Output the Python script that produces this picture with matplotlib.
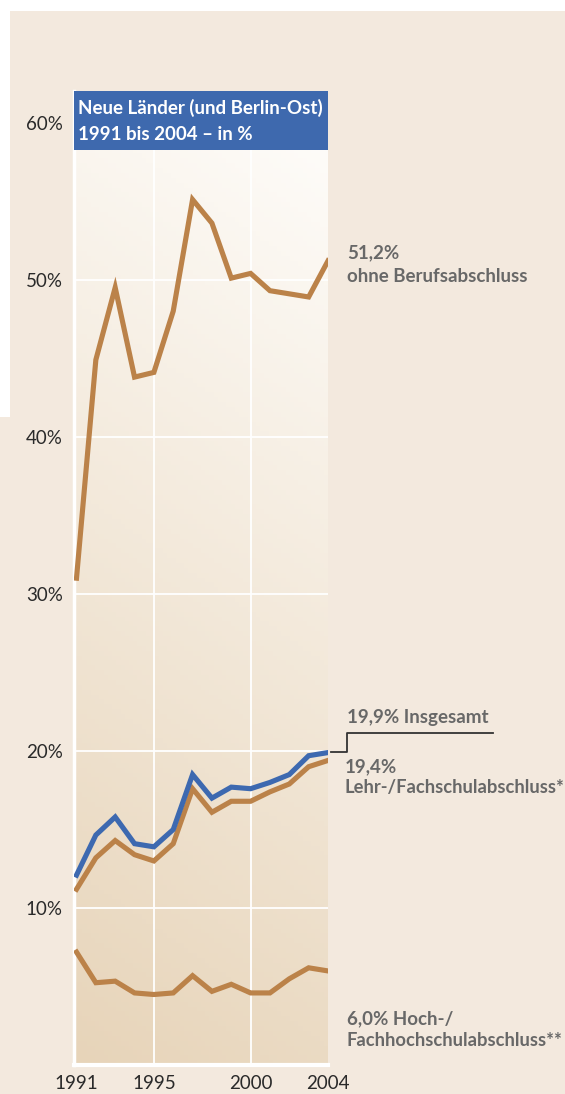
import numpy as np
import matplotlib
matplotlib.use("Agg")
import matplotlib.pyplot as plt
from matplotlib.patches import Rectangle
from matplotlib.colors import to_rgb

plt.rcParams['font.family'] = ['Lato', 'DejaVu Sans']

years = list(range(1991, 2005))
ohne = [31.0, 44.9, 49.5, 43.8, 44.1, 48.0, 55.1, 53.6, 50.1, 50.4, 49.3, 49.1, 48.9, 51.2]
insgesamt = [12.1, 14.65, 15.8, 14.1, 13.9, 15.0, 18.5, 17.0, 17.7, 17.6, 18.0, 18.5, 19.7, 19.9]
lehr = [11.2, 13.2, 14.3, 13.4, 13.0, 14.1, 17.6, 16.1, 16.8, 16.8, 17.4, 17.9, 19.0, 19.4]
hoch = [7.2, 5.25, 5.35, 4.6, 4.5, 4.6, 5.7, 4.7, 5.15, 4.6, 4.6, 5.5, 6.2, 6.0]

yticks = [10, 20, 30, 40, 50, 60]
ytick_labels = ["10%", "20%", "30%", "40%", "50%", "60%"]
xticks = [1991, 1995, 2000, 2004]
title_lines = ["Neue Länder (und Berlin-Ost)", "1991 bis 2004 – in %"]

W, H = 565, 1094
BROWN = "#bb8249"
BLUE = "#3d69b0"
BEIGE = "#f3e9de"
GRAY = "#686868"

fig = plt.figure(figsize=(W / 100, H / 100), dpi=100)
fig.patch.set_facecolor("white")

def fx(x):
    return x / W

def fy(y):
    return 1 - y / H

# background beige regions
fig.patches.append(Rectangle((fx(10), 0), 1 - fx(10), fy(11), transform=fig.transFigure,
                             facecolor=BEIGE, edgecolor="none", zorder=-10))
fig.patches.append(Rectangle((0, 0), fx(10) + 0.001, fy(417), transform=fig.transFigure,
                             facecolor=BEIGE, edgecolor="none", zorder=-10))

# axes geometry
ax_left, ax_right = 74, 328
ax_top, ax_bottom = 91, 1065.2
px_per = 15.71
ytop = (ax_bottom - ax_top) / px_per
step = (328 - 76.5) / 13
xmin = 1991 - 2.5 / step

ax = fig.add_axes([fx(ax_left), fy(ax_bottom), fx(ax_right - ax_left), (ax_bottom - ax_top) / H])
ax.set_zorder(1)
ax.patch.set_alpha(0)
for s in ax.spines.values():
    s.set_visible(False)

# gradient background (row 0 = bottom)
ny, nx = 200, 60
yy, xx = np.mgrid[0:1:ny * 1j, 0:1:nx * 1j]
s = np.clip((1 - yy) * 0.85 + (1 - xx) * 0.15, 0, 1)
top_c = np.array(to_rgb("#fffefc"))
bot_c = np.array(to_rgb("#e7d4b9"))
img = top_c[None, None, :] * (1 - s[..., None]) + bot_c[None, None, :] * s[..., None]
ax.imshow(img, extent=[xmin, 2004, 0, ytop], aspect="auto", zorder=0, origin="lower")
ax.set_xlim(xmin, 2004)
ax.set_ylim(0, ytop)

# grid
for v in yticks[:-1]:
    ax.axhline(v, color="white", lw=1.3, zorder=1)
for v in [1995, 2000]:
    ax.axvline(v, color="white", lw=1.3, zorder=1)
ax.axvline(xmin, color="white", lw=2.5, zorder=1, clip_on=False)
ax.axhline(0, color="white", lw=3, zorder=1, clip_on=False)

# lines
ax.plot(years, ohne, color=BROWN, lw=3.7, zorder=3, solid_joinstyle="miter")
ax.plot(years, lehr, color=BROWN, lw=3.7, zorder=3, solid_joinstyle="miter")
ax.plot(years, hoch, color=BROWN, lw=3.7, zorder=3, solid_joinstyle="miter")
ax.plot(years, insgesamt, color=BLUE, lw=3.7, zorder=4, solid_joinstyle="miter")

# title box
ybox = (ax_bottom - 150) / px_per
ax.add_patch(Rectangle((xmin, ybox), 2004 - xmin, ytop - ybox,
                       facecolor="#3e69ae", edgecolor="none", zorder=5, clip_on=False))
fig.text(fx(78), fy(108), title_lines[0], color="white", fontsize=13.5, fontweight="bold",
         ha="left", va="center", zorder=10)
fig.text(fx(78), fy(134), title_lines[1], color="white", fontsize=13.5, fontweight="bold",
         ha="left", va="center", zorder=10)

# ticks
ax.set_yticks(yticks)
ax.set_yticklabels(ytick_labels)
ax.set_xticks(xticks)
ax.set_xticklabels([str(x) for x in xticks])
ax.tick_params(axis="both", length=0, labelsize=13.5, colors="#2a2a2a")
ax.tick_params(axis="y", pad=8)
ax.tick_params(axis="x", pad=7)

# annotations
def lab(x, y, t, size=13.5):
    fig.text(fx(x), fy(y), t, color=GRAY, fontsize=size, fontweight="bold", ha="left", va="center")

lab(347, 253, "51,2%")
lab(347, 277, "ohne Berufsabschluss")
lab(347, 718, "19,9% Insgesamt")
lab(345, 767, "19,4%")
lab(345, 787, "Lehr-/Fachschulabschluss*", 13.2)
lab(347, 1019, "6,0% Hoch-/")
lab(347, 1040, "Fachhochschulabschluss**", 13.2)

# connector line
cx = [331, 347, 347, 493]
cy = [752, 752, 733, 733]
fig.lines.append(plt.Line2D([fx(v) for v in cx], [fy(v) for v in cy], transform=fig.transFigure,
                            color="#333333", lw=1.3))

fig.savefig("out.png", dpi=100, facecolor=fig.get_facecolor())
